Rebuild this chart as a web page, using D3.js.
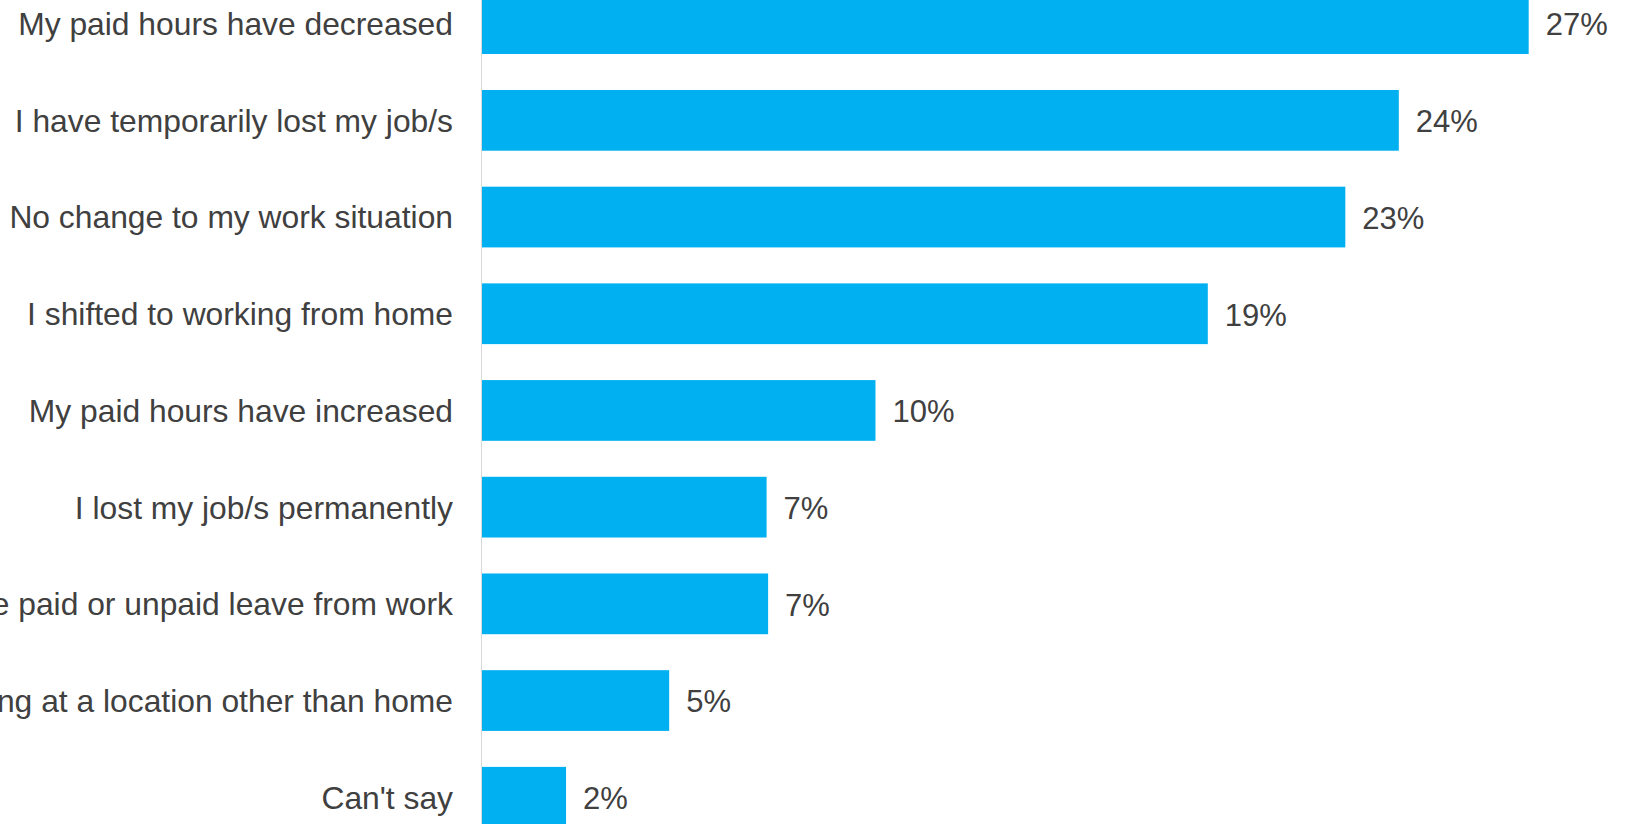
<!DOCTYPE html>
<html>
<head>
<meta charset="utf-8">
<script src="https://cdn.jsdelivr.net/npm/d3@7"></script>
<style>
  html, body { margin: 0; padding: 0; background: #ffffff; overflow: hidden; }
  svg { display: block; }
</style>
</head>
<body>
<svg id="chart" width="1625" height="824"></svg>
<script>
const categories = [
  "My paid hours have decreased",
  "I have temporarily lost my job/s",
  "No change to my work situation",
  "I shifted to working from home",
  "My paid hours have increased",
  "I lost my job/s permanently",
  "I had to take paid or unpaid leave from work",
  "I started working at a location other than home",
  "Can't say"
];
const values = [27.4, 24.0, 22.6, 19.0, 10.3, 7.45, 7.49, 4.9, 2.2];
const valueLabels = ["27%", "24%", "23%", "19%", "10%", "7%", "7%", "5%", "2%"];

const svg = d3.select("#chart");
const W = 1625, H = 824;
const axisX = 482;

const x = d3.scaleLinear().domain([0, 28]).range([axisX, axisX + 28 * 38.2]);
const y = d3.scaleBand()
  .domain(categories)
  .range([-24.7, 845.6])
  .paddingInner(0.372)
  .paddingOuter(0.186);

const data = categories.map((c, i) => ({ c, v: values[i], label: valueLabels[i] }));

// bars
svg.append("g").selectAll("rect")
  .data(data)
  .join("rect")
  .attr("x", x(0))
  .attr("y", d => y(d.c))
  .attr("width", d => x(d.v) - x(0))
  .attr("height", y.bandwidth())
  .attr("fill", "#00B0F0");

// vertical axis line
svg.append("line")
  .attr("x1", axisX - 0.5).attr("x2", axisX - 0.5)
  .attr("y1", 0).attr("y2", H)
  .attr("stroke", "#d9d9d9")
  .attr("stroke-width", 1);

// category labels
svg.append("g").selectAll("text")
  .data(data)
  .join("text")
  .attr("x", axisX - 29)
  .attr("y", d => y(d.c) + y.bandwidth() / 2)
  .attr("dy", "0.36em")
  .attr("text-anchor", "end")
  .attr("font-family", "'Liberation Sans', Arial, sans-serif")
  .attr("font-size", "31.8px")
  .attr("fill", "#404040")
  .text(d => d.c);

// value labels
svg.append("g").selectAll("text")
  .data(data)
  .join("text")
  .attr("x", d => x(d.v) + 17)
  .attr("y", d => y(d.c) + y.bandwidth() / 2)
  .attr("dy", "0.38em")
  .attr("text-anchor", "start")
  .attr("font-family", "'Liberation Sans', Arial, sans-serif")
  .attr("font-size", "31px")
  .attr("fill", "#404040")
  .text(d => d.label);
</script>
</body>
</html>
